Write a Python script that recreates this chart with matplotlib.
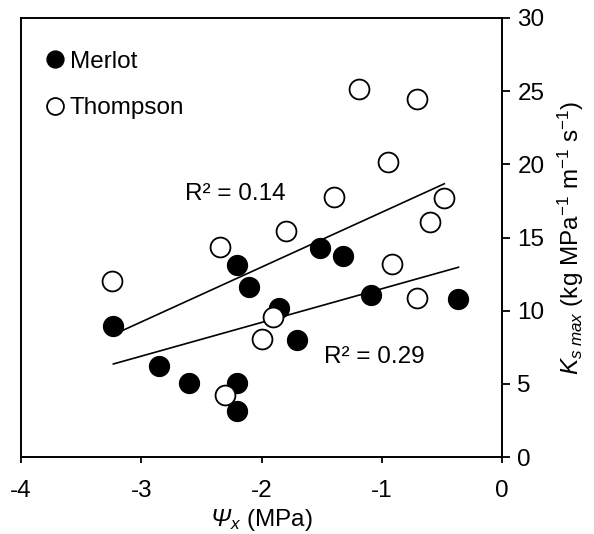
import matplotlib
matplotlib.use("Agg")
import matplotlib.pyplot as plt
import numpy as np

plt.rcParams['font.family'] = ['Liberation Sans', 'DejaVu Sans']
plt.rcParams['mathtext.fontset'] = 'custom'
plt.rcParams['mathtext.rm'] = 'Liberation Sans'
plt.rcParams['mathtext.it'] = 'Liberation Sans:italic'
plt.rcParams['mathtext.sf'] = 'Liberation Sans:italic'

merlot_x = [-3.235, -2.852, -2.602, -2.200, -2.200, -2.200, -2.103, -1.851, -1.703, -1.512, -1.324, -1.088, -0.370]
merlot_y = [8.98, 6.22, 5.04, 5.04, 3.15, 13.13, 11.65, 10.17, 8.00, 14.27, 13.75, 11.08, 10.79]

thompson_x = [-3.240, -2.344, -1.795, -2.300, -1.901, -1.998, -1.188, -0.703, -0.949, -1.400, -0.481, -0.598, -0.916, -0.703]
thompson_y = [12.06, 14.38, 15.45, 4.24, 9.55, 8.05, 25.15, 24.49, 20.13, 17.80, 17.69, 16.03, 13.22, 10.86]

# regression lines (slope, intercept, x-range)
thompson_fit = (3.747, 20.47, -3.162, -0.48)
merlot_fit = (2.303, 13.80, -3.232, -0.362)

fig = plt.figure(figsize=(5.94, 5.34), dpi=100)
ax = fig.add_axes([21/594, 1-457/534, (502-21)/594, (457-18)/534])

ms = 14.3
ax.plot(merlot_x, merlot_y, 'o', color='black', markersize=ms, label='Merlot', zorder=3)
ax.plot(thompson_x, thompson_y, 'o', markerfacecolor='white', markeredgecolor='black',
        markeredgewidth=1.3, markersize=ms, label='Thompson', zorder=4)

for slope, icpt, x0, x1 in (thompson_fit, merlot_fit):
    xs = np.array([x0, x1])
    ax.plot(xs, slope*xs + icpt, color='black', lw=1.2, zorder=2)

fs = 17.5
ax.text(-2.22, 17.99, 'R² = 0.14', fontsize=fs, ha='center', va='center')
ax.text(-1.063, 6.8, 'R² = 0.29', fontsize=fs, ha='center', va='center')

ax.set_xlim(-4, 0)
ax.set_ylim(0, 30)
ax.set_xticks([-4, -3, -2, -1, 0])
ax.set_xticklabels(['-4', '-3', '-2', '-1', '0'])
ax.set_yticks([0, 5, 10, 15, 20, 25, 30])
ax.yaxis.tick_right()
ax.yaxis.set_label_position('right')
ax.tick_params(axis='x', direction='out', length=4.5, width=1.3, labelsize=fs, pad=12)
ax.tick_params(axis='y', direction='out', length=6, width=1.3, labelsize=fs, pad=5)
for s in ax.spines.values():
    s.set_linewidth(1.4)

ax.set_xlabel(r'$\mathsf{Ψ}_{\mathsf{x}}$ (MPa)', fontsize=fs, labelpad=4)
ax.set_ylabel(r'$\mathit{K}_{\mathit{s\ max}}$ (kg MPa$^{\mathregular{-1}}$ m$^{\mathregular{-1}}$ s$^{\mathregular{-1}}$)',
              fontsize=fs, labelpad=8)

leg = ax.legend(loc='upper left', bbox_to_anchor=(0.0, 0.975), frameon=False, fontsize=fs,
                handletextpad=0.1, labelspacing=1.0, markerscale=0.85, handlelength=1.0,
                borderaxespad=0.5)

fig.savefig('out.png', dpi=100)
